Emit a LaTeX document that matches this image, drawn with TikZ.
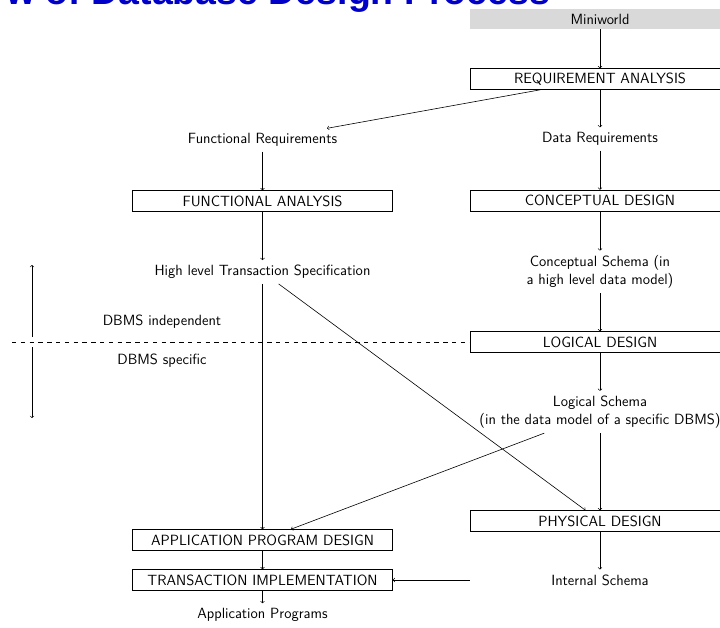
\documentclass[tikz,border=0pt]{standalone}
\usepackage{fontspec}
\newfontfamily\headfont{Liberation Sans}
\begin{document}
\begin{tikzpicture}[x=1pt,y=-1pt,line width=0.6pt,>=to,
  every node/.style={font=\sffamily\fontsize{14.8}{17.8}\selectfont,inner sep=4.8pt},
  stage/.style={draw,minimum width=260pt,minimum height=21pt,inner sep=0pt},
  world/.style={fill=black!15,minimum width=260pt,minimum height=20pt,inner sep=0pt},
  info/.style={align=center},
  flow/.style={->},
  border/.style={dash pattern=on 4.4pt off 4.4pt}]
\definecolor{headblue}{RGB}{0,0,200}
\useasboundingbox[clip] (0,0) rectangle (720,628);

% heading (partly above the page)
\node[anchor=base west,inner sep=0pt,text=headblue,
      font=\headfont\bfseries\fontsize{37.5}{40}\selectfont] (head) at (6,5)
      {w of Database Design Process};

% right column: data side
\node[world] (mini) at (600,19) {Miniworld};
\node[stage] (req) at (600,79) {REQUIREMENT ANALYSIS};
\node[info]  (datareq) at (600,139) {Data Requirements};
\node[stage] (cd) at (600,200.5) {CONCEPTUAL DESIGN};
\node[info]  (cs) at (600,272) {Conceptual Schema (in\\a high level data model)};
\node[stage] (ld) at (600,342) {LOGICAL DESIGN};
\node[info]  (ls) at (600,412) {Logical Schema\\(in the data model of a specific DBMS)};
\node[stage] (pd) at (600,521) {PHYSICAL DESIGN};
\node[info]  (is) at (600,580) {Internal Schema};

% left column: functional side
\node[info]  (funreq) at (262.5,140) {Functional Requirements};
\node[stage] (fa) at (262.5,201) {FUNCTIONAL ANALYSIS};
\node[info]  (hlts) at (262.5,272) {High level Transaction Specification};
\node[stage] (apd) at (262.5,540) {APPLICATION PROGRAM DESIGN};
\node[stage] (ti) at (262.5,580) {TRANSACTION IMPLEMENTATION};
\node[info]  (ap) at (262.5,615) {Application Programs};

% DBMS independent / specific split
\node (indep) at (162,322) {DBMS independent};
\node (spec) at (162,361) {DBMS specific};
\coordinate (splitstart) at (12,342);
\coordinate (splitmid) at (32,342);
\coordinate (splittop) at (32,265);
\coordinate (splitbot) at (32,418);
\draw[border] (splitstart) -- (ld.west);
\draw[flow,shorten <=5pt] (splitmid) -- (splittop);
\draw[flow,shorten <=5pt] (splitmid) -- (splitbot);

% flow of the data side
\draw[flow] (mini) -- (req);
\draw[flow] (req) -- (datareq);
\draw[flow] (datareq) -- (cd);
\draw[flow] (cd) -- (cs);
\draw[flow] (cs) -- (ld);
\draw[flow] (ld) -- (ls);
\draw[flow] (ls) -- (pd);
\draw[flow] (pd) -- (is);

% flow of the functional side
\draw[flow] (req) -- (funreq);
\draw[flow] (funreq) -- (fa);
\draw[flow] (fa) -- (hlts);
\draw[flow] (hlts) -- (apd);
\draw[flow] (apd) -- (ti);
\draw[flow] (ti) -- (ap);

% links across the columns
\draw[flow] (hlts) -- (pd);
\draw[flow] (ls) -- (apd);
\coordinate (isleft) at (pd.west |- is);
\draw[flow] (isleft) -- (ti.east);
\end{tikzpicture}
\end{document}
